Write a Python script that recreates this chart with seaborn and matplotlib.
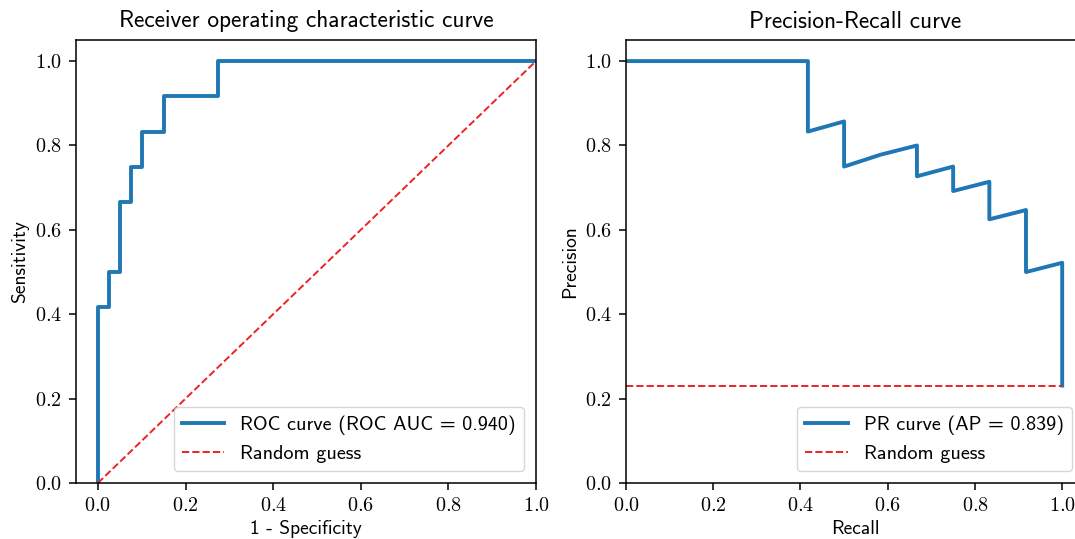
import matplotlib
matplotlib.use("Agg")
import matplotlib.pyplot as plt
from matplotlib.ticker import FuncFormatter
import seaborn as sns
import pandas as pd

# ROC curve points (1 - specificity, sensitivity)
roc_fpr = [0.0, 0.0, 0.025, 0.025, 0.05, 0.05, 0.075, 0.075, 0.1, 0.1, 0.15, 0.15, 0.275, 0.275, 1.0]
roc_tpr = [0.0, 0.417, 0.417, 0.5, 0.5, 0.667, 0.667, 0.75, 0.75, 0.833, 0.833, 0.917, 0.917, 1.0, 1.0]
roc_label = "ROC curve (ROC AUC = 0.940)"

# Precision-recall curve points
pr_recall = [0.0, 0.083, 0.167, 0.25, 0.333, 0.417, 0.417, 0.5, 0.5, 0.583, 0.667, 0.667,
             0.75, 0.75, 0.833, 0.833, 0.917, 0.917, 1.0, 1.0]
pr_precision = [1.0, 1.0, 1.0, 1.0, 1.0, 1.0, 0.833, 0.857, 0.75, 0.778, 0.8, 0.727,
                0.75, 0.692, 0.714, 0.625, 0.647, 0.5, 0.522, 0.231]
pr_label = "PR curve (AP = 0.839)"

# Random-guess baselines
roc_rand_x = [0.0, 1.0]
roc_rand_y = [0.0, 1.0]
pr_rand_x = [0.0, 1.0]
pr_rand_y = [0.231, 0.231]
rand_label = "Random guess"

tick_values = [0.0, 0.2, 0.4, 0.6, 0.8, 1.0]

plt.rcParams["font.family"] = ["cmss10", "DejaVu Sans"]
plt.rcParams["mathtext.fontset"] = "cm"
plt.rcParams["axes.unicode_minus"] = False
plt.rcParams["axes.formatter.use_mathtext"] = True

fig = plt.figure(figsize=(10.75, 5.39), dpi=100)
ax1 = fig.add_axes([76 / 1075, 56 / 539, 460 / 1075, 443 / 539])
ax2 = fig.add_axes([626 / 1075, 56 / 539, 458 / 1075, 443 / 539])

blue = "#1f77b4"
red = "#ee2222"

roc_df = pd.DataFrame({"x": roc_fpr, "y": roc_tpr})
pr_df = pd.DataFrame({"x": pr_recall, "y": pr_precision})

sns.lineplot(data=roc_df, x="x", y="y", sort=False, estimator=None, color=blue,
             linewidth=2.8, label=roc_label, ax=ax1)
sns.lineplot(x=roc_rand_x, y=roc_rand_y, sort=False, estimator=None, color=red,
             linewidth=1.4, linestyle="--", label=rand_label, ax=ax1)

sns.lineplot(data=pr_df, x="x", y="y", sort=False, estimator=None, color=blue,
             linewidth=2.8, label=pr_label, ax=ax2)
sns.lineplot(x=pr_rand_x, y=pr_rand_y, sort=False, estimator=None, color=red,
             linewidth=1.4, linestyle="--", label=rand_label, ax=ax2)

fmt = FuncFormatter(lambda v, p: r"$%.1f$" % v)

for ax in (ax1, ax2):
    ax.set_xticks(tick_values)
    ax.set_yticks(tick_values)
    ax.xaxis.set_major_formatter(fmt)
    ax.yaxis.set_major_formatter(fmt)
    ax.tick_params(labelsize=14.5, length=5, width=1.1, pad=5)
    for s in ax.spines.values():
        s.set_linewidth(1.1)
    ax.legend(loc="lower right", fontsize=14.5, framealpha=0.8, handlelength=2.1,
              borderaxespad=0.6)

ax1.set_xlim(-0.05, 1.0)
ax1.set_ylim(0.0, 1.05)
ax2.set_xlim(0.0, 1.05)
ax2.set_ylim(0.0, 1.05)

ax1.set_title("Receiver operating characteristic curve", fontsize=16.8, pad=9)
ax1.set_xlabel("1 - Specificity", fontsize=14)
ax1.set_ylabel("Sensitivity", fontsize=14)
ax2.set_title("Precision-Recall curve", fontsize=16.8, pad=9)
ax2.set_xlabel("Recall", fontsize=14)
ax2.set_ylabel("Precision", fontsize=14)

fig.savefig("out.png", dpi=100)
